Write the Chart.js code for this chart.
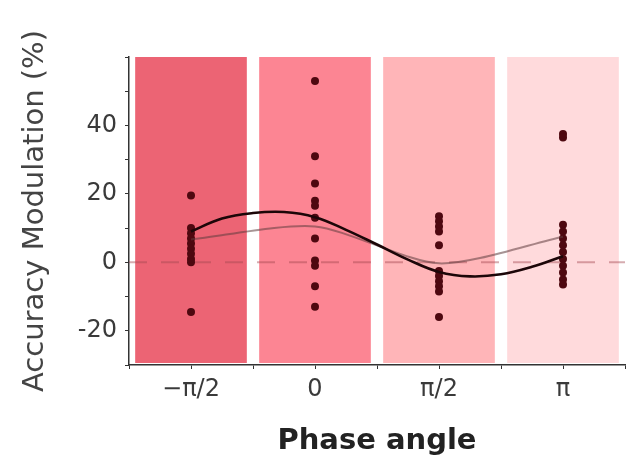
<!DOCTYPE html>
<html>
<head>
<meta charset="utf-8">
<script src="https://cdn.jsdelivr.net/npm/chart.js@4"></script>
<style>
  html, body { margin: 0; padding: 0; background: #ffffff; }
  #wrap { width: 629px; height: 459px; }
</style>
</head>
<body>
<div id="wrap"><canvas id="c" width="629" height="459"></canvas></div>
<script>
// ---- data ----
const categories = ['−π/2', '0', 'π/2', 'π'];
const yTickLabels = [-20, 0, 20, 40];
const bandRange = [-29.3, 60];

const dotsNegHalfPi = [19.5, 10, 8.5, 7, 5.5, 4, 2.5, 1, 0, -14.5];
const dotsZero      = [53, 31, 23, 18, 16.5, 13, 7, 0.5, -1, -7, -13];
const dotsHalfPi    = [13.5, 12, 10.5, 9, 5, -2.5, -4, -5.5, -7, -8.5, -16];
const dotsPi        = [37.5, 36.5, 11, 9, 7, 5, 3, 1, -1, -3, -5, -6.5];

const meanLine = [6.7, 10.5, -0.3, 7.5];

const fitX = [0, 0.25, 0.5, 0.75, 1, 1.25, 1.5, 1.75, 2, 2.25, 2.5, 2.75, 3];
const fitY = [9, 12.8, 14.4, 14.7, 13.2, 9.5, 5.2, 0.8, -2.8, -4.1, -3.5, -1.3, 1.8];

// ---- build datasets ----
const groups = [dotsNegHalfPi, dotsZero, dotsHalfPi, dotsPi];
const dotData = [];
groups.forEach((g, i) => g.forEach(v => dotData.push({ x: i, y: v })));

const bandColors = ['rgb(236,100,116)', 'rgb(252,133,147)', 'rgb(255,181,184)', 'rgb(255,218,220)'];

const fontFamily = "'DejaVu Sans', Verdana, sans-serif";

new Chart(document.getElementById('c'), {
  type: 'scatter',
  data: {
    datasets: [
      {
        type: 'bar',
        data: categories.map((c, i) => ({ x: i, y: bandRange })),
        backgroundColor: bandColors,
        borderWidth: 0,
        barThickness: 111,
        order: 5
      },
      {
        type: 'line',
        data: [{ x: -0.5, y: 0 }, { x: 3.5, y: 0 }],
        borderColor: 'rgba(165,70,80,0.45)',
        borderWidth: 2,
        borderDash: [18, 14],
        pointRadius: 0,
        order: 4
      },
      {
        type: 'scatter',
        data: dotData,
        backgroundColor: '#4e0810',
        borderWidth: 0,
        pointRadius: 4,
        order: 3
      },
      {
        type: 'line',
        data: meanLine.map((v, i) => ({ x: i, y: v })),
        borderColor: 'rgba(95,60,62,0.55)',
        borderWidth: 2,
        tension: 0.25,
        pointRadius: 0,
        order: 2
      },
      {
        type: 'line',
        data: fitX.map((x, i) => ({ x: x, y: fitY[i] })),
        borderColor: '#1c0608',
        borderWidth: 2.6,
        tension: 0.4,
        pointRadius: 0,
        order: 1
      }
    ]
  },
  options: {
    responsive: false,
    animation: false,
    events: [],
    layout: { padding: { top: 57, right: -2, left: 0, bottom: 0 } },
    plugins: { legend: { display: false }, tooltip: { enabled: false } },
    scales: {
      x: {
        type: 'linear',
        offset: false,
        min: -0.5,
        max: 3.5,
        afterFit: (s) => { s.height = 94; s.paddingLeft = 0; s.paddingRight = 0; },
        border: { display: true, color: '#333', width: 1.5 },
        grid: { offset: false, drawOnChartArea: false, drawTicks: true, tickLength: 4, color: '#333' },
        ticks: {
          stepSize: 0.5,
          autoSkip: false,
          maxRotation: 0,
          padding: 6,
          color: '#3a3a3a',
          font: { family: fontFamily, size: 24 },
          callback: (v) => Number.isInteger(v) && v >= 0 && v < categories.length ? categories[v] : ''
        },
        title: {
          display: true,
          text: 'Phase angle',
          color: '#222',
          font: { family: fontFamily, size: 29, weight: 'bold' },
          padding: { top: 3, bottom: 0 }
        }
      },
      y: {
        min: -30,
        max: 60,
        afterFit: (s) => { s.width = 129; },
        border: { display: true, color: '#333', width: 1.5 },
        grid: { drawOnChartArea: false, drawTicks: true, tickLength: 4, color: '#333' },
        ticks: {
          stepSize: 10,
          autoSkip: false,
          padding: 8,
          color: '#3a3a3a',
          font: { family: fontFamily, size: 24 },
          callback: (v) => yTickLabels.includes(v) ? String(v) : ''
        },
        title: {
          display: true,
          text: 'Accuracy Modulation (%)',
          color: '#444',
          font: { family: fontFamily, size: 29 },
          padding: { top: 18, bottom: 0 }
        }
      }
    }
  }
});
</script>
</body>
</html>
